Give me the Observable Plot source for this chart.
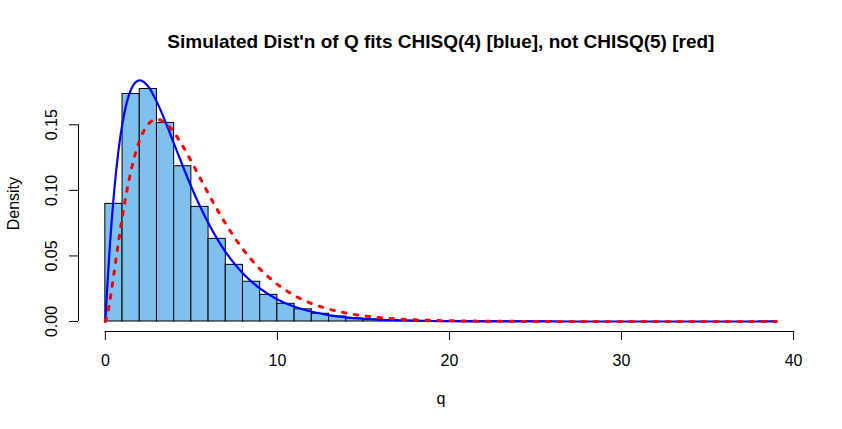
<!DOCTYPE html>
<html>
<head>
<meta charset="utf-8">
<script src="https://cdn.jsdelivr.net/npm/d3@7"></script>
<script src="https://cdn.jsdelivr.net/npm/@observablehq/plot@0.6"></script>
<style>
  html, body { margin: 0; padding: 0; background: #fff; }
  svg { display: block; font-family: "Liberation Sans", Arial, sans-serif; }
</style>
</head>
<body>
<div id="chart"></div>
<script>
// ---- data ----
const titleText = "Simulated Dist'n of Q fits CHISQ(4) [blue], not CHISQ(5) [red]";
const xLabel = "q";
const yLabel = "Density";
const xTicks = [0, 10, 20, 30, 40];
const yTicks = [0, 0.05, 0.10, 0.15];

// histogram: bins of width 1 starting at 0
const binStarts = d3.range(0, 39);
const binDensity = [
  0.0897, 0.1735, 0.1773, 0.1514, 0.1184, 0.0874, 0.0630, 0.0432, 0.0303, 0.0203,
  0.0135, 0.0093, 0.0059, 0.0038, 0.0023, 0.0015, 0.0010, 0.0006, 0.0004, 0.0003,
  0.0002, 0.0001, 0.0001, 0.00005, 0.00003, 0.00002, 0, 0, 0, 0,
  0, 0, 0, 0, 0, 0, 0, 0, 0.00001
];

// curves
const curveQ = [0, 0.1, 0.25, 0.5, 0.75, 1, 1.25, 1.5, 1.75, 2, 2.25, 2.5, 2.75, 3, 3.5, 4, 4.5, 5, 5.5, 6,
  6.5, 7, 7.5, 8, 9, 10, 11, 12, 13, 14, 15, 16, 17, 18, 19, 20, 22, 24, 27, 30, 35, 39];
const blueDensity = [0, 0.0238, 0.0552, 0.0974, 0.1289, 0.1516, 0.1673, 0.1771, 0.1824, 0.1839,
  0.1826, 0.1791, 0.1738, 0.1673, 0.1521, 0.1353, 0.1186, 0.1026, 0.0879, 0.0747,
  0.0630, 0.0528, 0.0441, 0.0366, 0.0250, 0.0168, 0.0112, 0.0074, 0.0049, 0.0032,
  0.0021, 0.0013, 0.0009, 0.0006, 0.00036, 0.0002, 0.0001, 0.00004, 0.00001, 0, 0, 0];
const redDensity = [0, 0.0040, 0.0147, 0.0366, 0.0594, 0.0807, 0.0995, 0.1154, 0.1283, 0.1384,
  0.1457, 0.1506, 0.1533, 0.1542, 0.1513, 0.1440, 0.1338, 0.1220, 0.1096, 0.0973,
  0.0854, 0.0744, 0.0642, 0.0551, 0.0399, 0.0283, 0.0198, 0.0137, 0.0094, 0.0064,
  0.0043, 0.0029, 0.0019, 0.00125, 0.00082, 0.00054, 0.00023, 0.0001, 0.00003, 0.00001, 0, 0];

// ---- tables for Plot ----
const bins = binStarts.map((s, i) => ({x1: s, x2: s + 1, d: binDensity[i]}));
const blue = curveQ.map((q, i) => ({q, d: blueDensity[i]}));
const red = curveQ.map((q, i) => ({q, d: redDensity[i]}));

// R-style 4% axis expansion
const xMin = 0, xMax = 39;
const xPad = 0.04 * (xMax - xMin);
const xDomain = [xMin - xPad, xMax + xPad];
const yDomain = [-0.00763, 0.18737];

const fmt2 = d3.format(".2f");

const chart = Plot.plot({
  width: 842,
  height: 429,
  marginLeft: 78,
  marginRight: 39.3,
  marginTop: 75.3,
  marginBottom: 98,
  style: {fontFamily: "'Liberation Sans', Arial, sans-serif", fontSize: "16px", background: "white", color: "black"},
  x: {domain: xDomain, axis: null},
  y: {domain: yDomain, axis: null},
  marks: [
    Plot.rectY(bins, {x1: "x1", x2: "x2", y1: 0, y2: "d", fill: "#7EC0EE", stroke: "black", strokeWidth: 1, inset: 0}),
    Plot.line(blue, {x: "q", y: "d", stroke: "#0000FF", strokeWidth: 2.2, curve: "monotone-x", clip: true}),
    Plot.line(red, {x: "q", y: "d", stroke: "#FF0000", strokeWidth: 3, strokeDasharray: "3.5,8.5", curve: "monotone-x", clip: true}),
    // x axis (R style)
    Plot.ruleY([yDomain[0]], {x1: xTicks[0], x2: xTicks[xTicks.length - 1], stroke: "black"}),
    Plot.axisX(xTicks, {tickSize: 9, tickPadding: 14, fontSize: 16, label: null, tickFormat: d => String(d)}),
    // y axis (R style)
    Plot.ruleX([xDomain[0]], {y1: yTicks[0], y2: yTicks[yTicks.length - 1], stroke: "black"}),
    Plot.axisY(yTicks, {tickSize: 9, label: null, tickFormat: () => ""}),
    Plot.text(yTicks, {y: d => d, frameAnchor: "left", dx: -27, rotate: -90, text: d => fmt2(d), fontSize: 16, lineAnchor: "middle", textAnchor: "middle"}),
    // labels
    Plot.text([yLabel], {frameAnchor: "left", dx: -64.6, rotate: -90, fontSize: 16, lineAnchor: "middle", textAnchor: "middle"}),
    Plot.text([xLabel], {frameAnchor: "bottom", dy: 67.2, fontSize: 16, lineAnchor: "middle"}),
    Plot.text([titleText], {frameAnchor: "top", dy: -33.7, fontSize: 19, fontWeight: "bold", lineAnchor: "middle"})
  ]
});
document.getElementById("chart").appendChild(chart);
</script>
</body>
</html>
